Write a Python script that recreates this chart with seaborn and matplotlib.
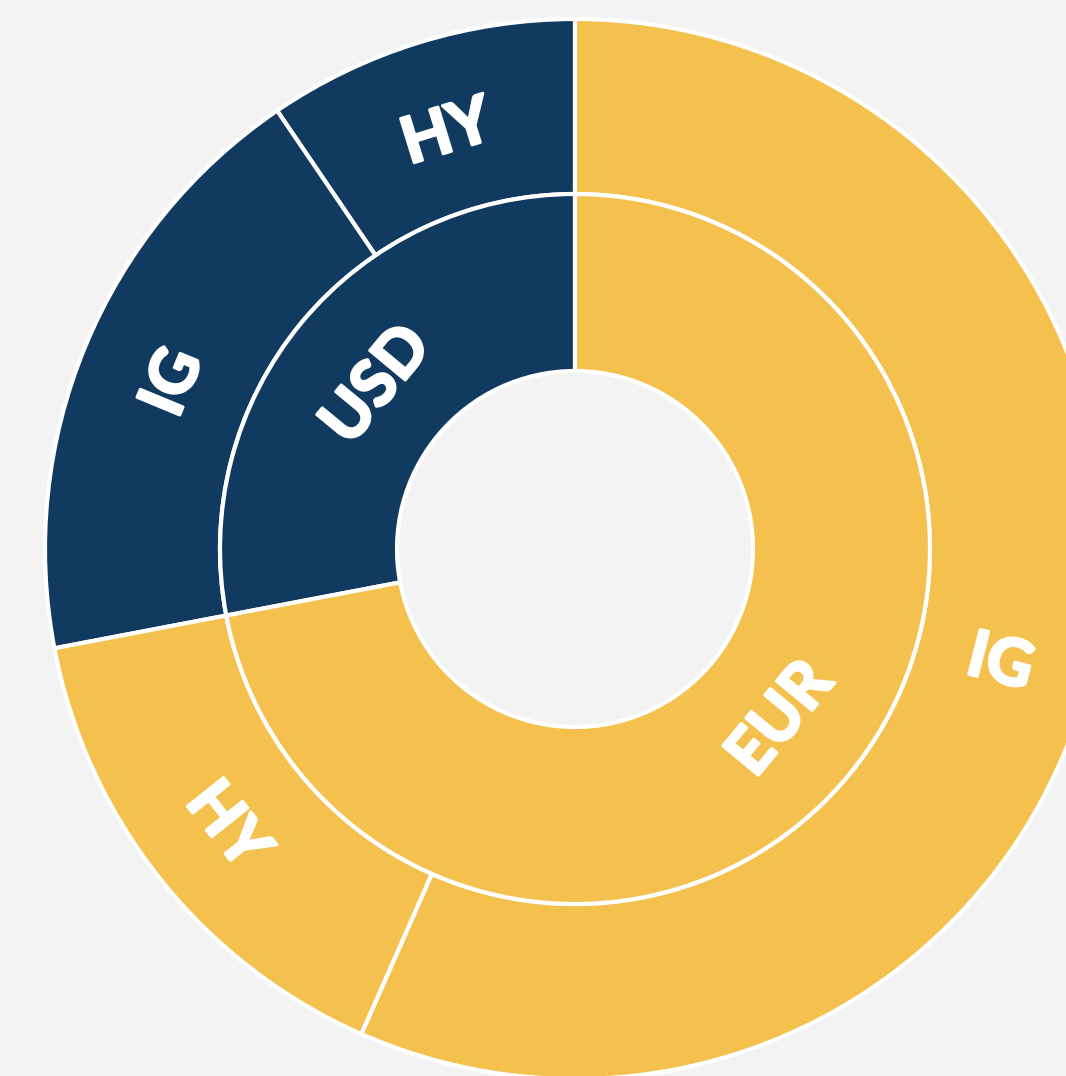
import matplotlib.pyplot as plt
import matplotlib.patheffects as pe
import seaborn as sns
import numpy as np

# currency split (inner ring) and rating split (outer ring), in %
currencies = ["USD", "EUR"]
currency_share = [28.0, 72.0]
ratings = ["HY", "IG", "HY", "IG"]
rating_share = [9.5, 18.5, 15.4, 56.6]

navy = "#103a5f"
gold = "#f4c14e"
bg = "#f3f3f3"

sns.set_style("white")
plt.rcParams["font.family"] = ["Lato", "DejaVu Sans"]

fig = plt.figure(figsize=(10.66, 10.76), dpi=100, facecolor=bg)
ax = fig.add_axes([0, 0, 1, 1])
ax.set_facecolor(bg)

# pixel-like coordinates, center of chart at (0, 0)
cx, cy = 575, 549
r_hole, r_mid, r_out = 178, 355, 530

edge = dict(edgecolor="white", linewidth=3)
outer, _ = ax.pie(rating_share, radius=r_out, startangle=90, counterclock=True,
                  colors=[navy, navy, gold, gold],
                  wedgeprops=dict(width=r_out - r_mid, **edge))
inner, _ = ax.pie(currency_share, radius=r_mid, startangle=90, counterclock=True,
                  colors=[navy, gold],
                  wedgeprops=dict(width=r_mid - r_hole, **edge))

ax.set_xlim(-cx, 1066 - cx)
ax.set_ylim(-(1076 - cy), cy)
ax.set_aspect("equal")
ax.axis("off")

thick = [pe.withStroke(linewidth=2.2, foreground="white")]


def put_label(w, text, r, radial=False, shift=0.0):
    mid = (w.theta1 + w.theta2) / 2 + shift
    a = np.deg2rad(mid)
    rot = mid if radial else mid - 90
    rot = (rot + 180) % 360 - 180
    if rot > 90:
        rot -= 180
    elif rot < -90:
        rot += 180
    ax.text(r * np.cos(a), r * np.sin(a), text, rotation=rot,
            rotation_mode="anchor", ha="center", va="center_baseline",
            color="white", fontsize=46, fontweight="bold", path_effects=thick)


for w, t in zip(inner, currencies):
    put_label(w, t, 262)
for i, (w, t) in enumerate(zip(outer, ratings)):
    if i == 3:
        put_label(w, t, 440, radial=True, shift=-2.5)
    else:
        put_label(w, t, 440)

fig.savefig("out.png", dpi=100, facecolor=bg)
